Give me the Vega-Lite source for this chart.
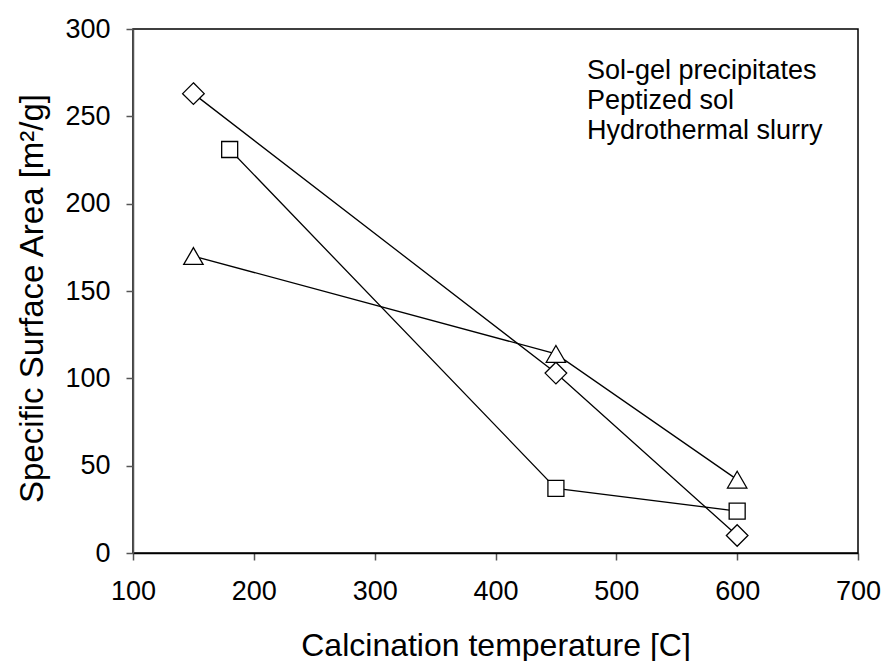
{
  "$schema": "https://vega.github.io/schema/vega-lite/v6.json",
  "width": 725,
  "height": 524,
  "autosize": {"type": "none"},
  "padding": {"left": 133, "top": 29, "right": 27, "bottom": 108},
  "config": {
    "font": "Liberation Sans",
    "view": {"stroke": "black", "strokeWidth": 1.5},
    "axis": {
      "grid": false,
      "labelFont": "Liberation Sans",
      "labelFontSize": 27,
      "labelColor": "black",
      "titleFont": "Liberation Sans",
      "titleFontSize": 32,
      "titleFontWeight": "normal",
      "titleColor": "black",
      "domainColor": "black",
      "domainWidth": 1.5,
      "tickColor": "#555",
      "tickWidth": 1.5,
      "tickSize": 7
    }
  },
  "data": {
    "values": [
      {"series": "Sol-gel precipitates", "temp": 180, "area": 231},
      {"series": "Sol-gel precipitates", "temp": 450, "area": 37},
      {"series": "Sol-gel precipitates", "temp": 600, "area": 24},
      {"series": "Peptized sol", "temp": 150, "area": 263},
      {"series": "Peptized sol", "temp": 450, "area": 103},
      {"series": "Peptized sol", "temp": 600, "area": 10},
      {"series": "Hydrothermal slurry", "temp": 150, "area": 170},
      {"series": "Hydrothermal slurry", "temp": 450, "area": 114},
      {"series": "Hydrothermal slurry", "temp": 600, "area": 42}
    ]
  },
  "encoding": {
    "x": {
      "field": "temp",
      "type": "quantitative",
      "scale": {"domain": [100, 700], "nice": false, "zero": false},
      "axis": {
        "title": "Calcination temperature [C]",
        "values": [100, 200, 300, 400, 500, 600, 700],
        "labelPadding": 18,
        "titlePadding": 26,
        "labelFlush": false
      }
    },
    "y": {
      "field": "area",
      "type": "quantitative",
      "scale": {"domain": [0, 300], "nice": false},
      "axis": {
        "title": "Specific Surface Area [m²/g]",
        "values": [0, 50, 100, 150, 200, 250, 300],
        "labelPadding": 16,
        "titlePadding": 15,
        "titleFontSize": 33,
        "titleY": 269,
        "domainColor": "#555",
        "labelFlush": false
      }
    }
  },
  "layer": [
    {
      "mark": {"type": "line", "color": "black", "strokeWidth": 1.3},
      "encoding": {"detail": {"field": "series", "type": "nominal"}}
    },
    {
      "mark": {"type": "point", "filled": false, "fill": "white", "stroke": "black", "strokeWidth": 1.3, "opacity": 0, "size": 330},
      "encoding": {
        "shape": {
          "field": "series",
          "type": "nominal",
          "scale": {
            "domain": ["Sol-gel precipitates", "Peptized sol", "Hydrothermal slurry"],
            "range": ["square", "diamond", "triangle-up"]
          },
          "legend": {
            "title": null,
            "orient": "none",
            "legendX": 391,
            "legendY": 28,
            "padding": 0,
            "rowPadding": 2,
            "symbolSize": 330,
            "symbolOpacity": 1,
            "symbolFillColor": "white",
            "symbolStrokeColor": "black",
            "symbolStrokeWidth": 1.3,
            "labelFont": "Liberation Sans",
            "labelFontSize": 27,
            "labelColor": "black",
            "labelOffset": 36,
            "labelLimit": 400
          }
        }
      }
    },
    {
      "mark": {"type": "point", "filled": false, "fill": "white", "fillOpacity": 1, "stroke": "black", "strokeWidth": 1.3, "opacity": 1, "size": 400},
      "encoding": {
        "shape": {
          "field": "series",
          "type": "nominal",
          "scale": {
            "domain": ["Sol-gel precipitates", "Peptized sol", "Hydrothermal slurry"],
            "range": [
              "M-0.8,-0.8L0.8,-0.8L0.8,0.8L-0.8,0.8Z",
              "M0,-1.08L1.08,0L0,1.08L-1.08,0Z",
              "M0,-0.84L0.97,0.84L-0.97,0.84Z"
            ]
          },
          "legend": null
        }
      }
    }
  ],
  "resolve": {"scale": {"shape": "independent"}}
}
